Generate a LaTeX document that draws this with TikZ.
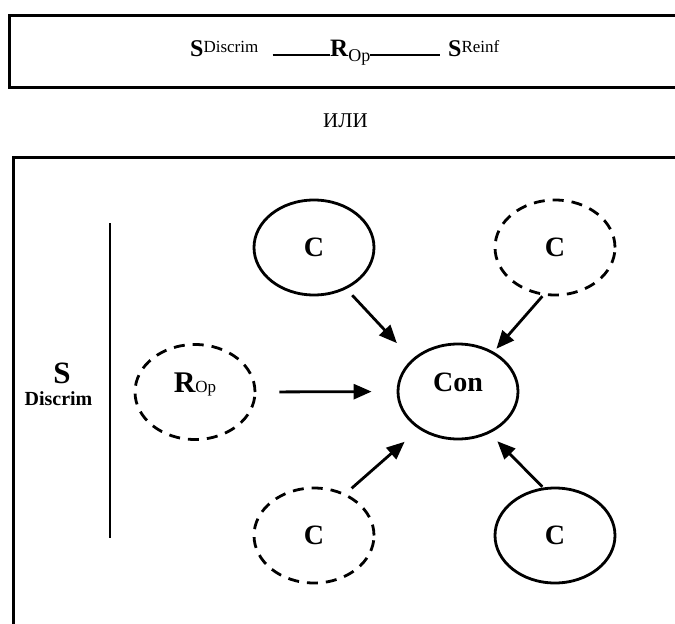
\documentclass[tikz,border=0pt]{standalone}
\usepackage{fontspec}
\setmainfont{Liberation Serif}
\usetikzlibrary{shapes.geometric, arrows.meta}
\newcommand{\fsz}[1]{\fontsize{#1}{#1}\selectfont}

\begin{document}
\begin{tikzpicture}[x=1pt, y=-1pt,
	oval/.style={ellipse, draw, line width=2.8pt, inner sep=0pt, minimum width=120pt, minimum height=95pt, font=\fsz{28}\bfseries},
	dashoval/.style={oval, dash pattern=on 11pt off 8pt},
	onbase/.style={text height=20pt, text depth=20pt},
	arr/.style={line width=2.8pt, -{Triangle[length=18pt, width=15pt]}},
	frame/.style={line width=3pt},
	plain/.style={inner sep=0pt, anchor=base west}]
	\clip (0,0) rectangle (675,624);
	\draw[frame] (690,15) -- (9,15) -- (9,87) -- (690,87);
	\node[plain] (sdisc) at (190,56) {\fsz{24}\bfseries S\raisebox{4pt}{\fsz{17}\mdseries Discrim}};
	\node[plain] (rop) at (330,56) {\fsz{25}\bfseries R\raisebox{-5pt}{\fsz{18}\mdseries Op}};
	\node[plain] (sreinf) at (448,56) {\fsz{24}\bfseries S\raisebox{4pt}{\fsz{17}\mdseries Reinf}};
	\draw[line width=1.4pt] ([xshift=14pt, yshift=1pt]sdisc.base east) -- ([yshift=1pt]rop.base west);
	\draw[line width=1.4pt] ([yshift=1pt]rop.base east) -- ([xshift=-8pt, yshift=1pt]sreinf.base west);
	\node[anchor=base] (ili) at (345.5,127) {\fsz{21}ИЛИ};

	\draw[frame] (690,157) -- (13,157) -- (13,640);
	\draw[line width=1.6pt] (110,223) -- (110,538);
	\node[anchor=base, font=\fsz{31}\bfseries] (s) at (62,383) {S};
	\node[anchor=base, font=\fsz{20}\bfseries] (discrim) at (58.5,405) {Discrim};

	\node[dashoval, onbase, font=\fsz{30}\bfseries] (rop2) at (195,392) {R{\fsz{17}\mdseries Op}};
	\node[oval] (ctl) at (314,247.5) {C};
	\node[dashoval] (ctr) at (555,247.5) {C};
	\node[oval, onbase] (con) at (458,391.5) {Con};
	\node[dashoval] (cbl) at (314,535.5) {C};
	\node[oval] (cbr) at (555,535.5) {C};

	\draw[arr, shorten <=23pt, shorten >=25pt] (rop2.east) -- (con.west);
	\draw[arr, shorten <=8.5pt, shorten >=22pt] (ctl.-52) -- (con.145);
	\draw[arr, shorten <=1pt, shorten >=4pt] (ctr.-104) -- (con.48);
	\draw[arr, shorten <=8pt, shorten >=19pt] (cbl.53) -- (con.-136);
	\draw[arr, shorten <=1pt, shorten >=11pt] (cbr.104) -- (con.-53);
\end{tikzpicture}
\end{document}
